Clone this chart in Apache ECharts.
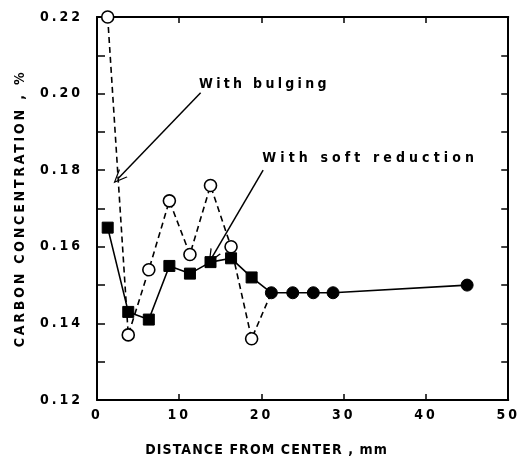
<!DOCTYPE html>
<html>
<head>
<meta charset="utf-8">
<script src="https://cdn.jsdelivr.net/npm/echarts@6/dist/echarts.min.js"></script>
<style>html,body{margin:0;padding:0;background:#fff}#c{width:520px;height:462px}</style>
</head>
<body>
<div id="c"></div>
<script>
// Data
const xSoft = [1.3, 3.8, 6.3, 8.8, 11.3, 13.8, 16.3, 18.8, 21.2, 23.8, 26.3, 28.7, 45];
const ySoft = [0.165, 0.143, 0.141, 0.155, 0.153, 0.156, 0.157, 0.152, 0.148, 0.148, 0.148, 0.148, 0.150];
const xBulge = [1.3, 3.8, 6.3, 8.8, 11.3, 13.8, 16.3, 18.8, 21.2];
const yBulge = [0.220, 0.137, 0.154, 0.172, 0.158, 0.176, 0.160, 0.136, 0.148];
const xTicks = [0, 10, 20, 30, 40, 50];
const yTicks = [0.12, 0.14, 0.16, 0.18, 0.20, 0.22];
const labelBulge = 'With bulging';
const labelSoft = 'With soft reduction';
const xTitle = 'DISTANCE FROM CENTER , mm';
const yTitle = 'CARBON CONCENTRATION , %';
const arrowBulge = [[12.6, 0.2002], [2.6, 0.1779]];
const arrowSoft = [[20.2, 0.1800], [14.0, 0.1573]];
const textBulgePos = [12.4, 0.2025];
const textSoftPos = [20.1, 0.1830];
const nSquares = 8;

// letter spacing (tracking) like the reference's typewriter-style lettering
const spacingByText = {};
spacingByText[labelBulge] = '3.3px';
spacingByText[labelSoft] = '4.1px';
spacingByText[xTitle] = '1.1px';
spacingByText[yTitle] = '2.8px';
const origFill = CanvasRenderingContext2D.prototype.fillText;
CanvasRenderingContext2D.prototype.fillText = function (t, x, y, m) {
  const prev = this.letterSpacing;
  if ('letterSpacing' in this) this.letterSpacing = spacingByText[t] || '3px';
  if (m === undefined) origFill.call(this, t, x, y); else origFill.call(this, t, x, y, m);
  if ('letterSpacing' in this) this.letterSpacing = prev;
};

const FONT = '"DejaVu Sans Condensed", "Liberation Sans Narrow", sans-serif';
const chevron = 'path://M0,0 L6,12 L4.6,12 L0,2.6 L-4.6,12 L-6,12 Z';

const softData = xSoft.map((x, i) => ({
  value: [x, ySoft[i]],
  symbol: i < nSquares ? 'rect' : 'circle',
  symbolSize: i < nSquares ? 11 : 12
}));
const bulgeData = xBulge.map((x, i) => ({
  value: [x, yBulge[i]],
  symbol: i === xBulge.length - 1 ? 'none' : 'circle'
}));

const axisCommon = {
  axisLine: {show: true, onZero: false, lineStyle: {color: '#000', width: 2}},
  splitLine: {show: false}
};

const chart = echarts.init(document.getElementById('c'));
chart.setOption({
  animation: false,
  backgroundColor: '#fff',
  grid: {left: 97, right: 8, top: 17, bottom: 62},
  xAxis: [
    Object.assign({}, axisCommon, {
      type: 'value', min: xTicks[0], max: xTicks[xTicks.length - 1], interval: 10,
      axisTick: {inside: true, length: 6, lineStyle: {color: '#000', width: 1.5}},
      axisLabel: {color: '#000', fontFamily: FONT, fontWeight: 'bold', fontSize: 14, margin: 8},
      name: xTitle, nameLocation: 'middle', nameGap: 43,
      nameTextStyle: {color: '#000', fontFamily: FONT, fontWeight: 'bold', fontSize: 14,
        padding: [0, 72, 0, 0]}
    }),
    Object.assign({}, axisCommon, {
      type: 'value', position: 'top', min: xTicks[0], max: xTicks[xTicks.length - 1], interval: 10,
      axisTick: {inside: true, length: 6, lineStyle: {color: '#000', width: 1.5}},
      axisLabel: {show: false}
    })
  ],
  yAxis: [
    Object.assign({}, axisCommon, {
      type: 'value', min: yTicks[0], max: yTicks[yTicks.length - 1], interval: 0.02,
      axisTick: {inside: true, length: 8, lineStyle: {color: '#000', width: 1.5}},
      minorTick: {show: true, splitNumber: 2, length: 8, lineStyle: {color: '#000', width: 1.5}},
      axisLabel: {color: '#000', fontFamily: FONT, fontWeight: 'bold', fontSize: 14, margin: 14,
        formatter: v => v.toFixed(2)},
      name: yTitle, nameLocation: 'middle', nameGap: 70, nameRotate: 90,
      nameTextStyle: {color: '#000', fontFamily: FONT, fontWeight: 'bold', fontSize: 14}
    }),
    Object.assign({}, axisCommon, {
      type: 'value', position: 'right', min: yTicks[0], max: yTicks[yTicks.length - 1], interval: 0.02,
      axisTick: {inside: true, length: 7, lineStyle: {color: '#000', width: 1.5}},
      minorTick: {show: true, splitNumber: 2, length: 7, lineStyle: {color: '#000', width: 1.5}},
      axisLabel: {show: false}
    })
  ],
  series: [
    {
      type: 'line', name: labelBulge, data: bulgeData, z: 2,
      lineStyle: {color: '#000', width: 1.6, type: [6, 4]},
      itemStyle: {color: '#fff', borderColor: '#000', borderWidth: 1.6},
      symbolSize: 12, showSymbol: true,
      markLine: {
        silent: true, symbol: ['none', chevron], symbolSize: [12, 14],
        lineStyle: {color: '#000', width: 1.5, type: 'solid'},
        label: {show: false},
        data: [
          [{coord: arrowBulge[0]}, {coord: arrowBulge[1]}],
          [{coord: arrowSoft[0]}, {coord: arrowSoft[1]}]
        ]
      },
      markPoint: {
        symbol: 'circle', symbolSize: 0,
        label: {show: true, position: 'right', distance: 0, color: '#000', fontFamily: FONT,
          fontWeight: 'bold', fontSize: 14, formatter: p => p.name},
        data: [
          {name: labelBulge, coord: textBulgePos},
          {name: labelSoft, coord: textSoftPos}
        ]
      }
    },
    {
      type: 'line', name: labelSoft, data: softData, z: 3,
      lineStyle: {color: '#000', width: 1.6},
      itemStyle: {color: '#000', borderColor: '#000'},
      showSymbol: true
    }
  ]
});
</script>
</body>
</html>
